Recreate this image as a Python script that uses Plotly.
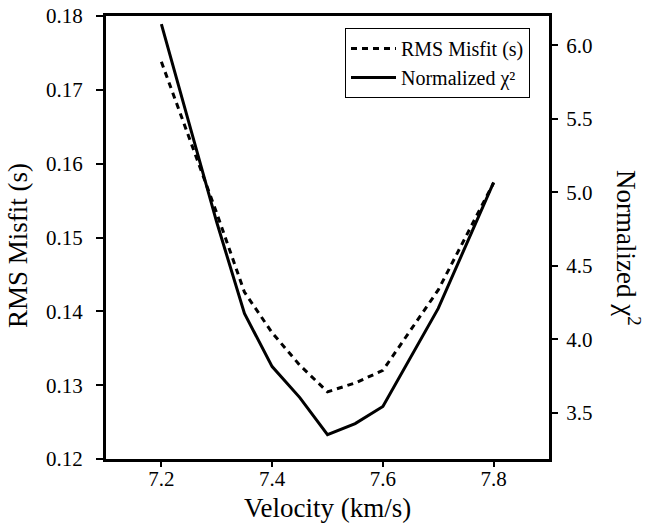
import plotly.graph_objects as go

velocity = [7.2, 7.3, 7.35, 7.4, 7.45, 7.5, 7.55, 7.6, 7.7, 7.8]
rms_misfit = [0.1738, 0.1533, 0.1426, 0.1371, 0.1327, 0.1291, 0.1303, 0.1320, 0.1429, 0.1574]
norm_chi2 = [6.145, 4.796, 4.175, 3.814, 3.603, 3.351, 3.426, 3.542, 4.210, 5.068]

x_ticks = [7.2, 7.4, 7.6, 7.8]
y1_ticks = [0.12, 0.13, 0.14, 0.15, 0.16, 0.17, 0.18]
y2_ticks = [3.5, 4.0, 4.5, 5.0, 5.5, 6.0]

FONT = "Liberation Serif, Times New Roman, serif"
L, R, T, B = 106, 98, 16, 69
W, H = 647, 528
pw, ph = W - L - R, H - T - B


def px(xp):
    return (xp - L) / pw


def py(yp):
    return (H - B - yp) / ph


fig = go.Figure()
fig.add_trace(go.Scatter(x=velocity, y=rms_misfit, mode="lines", name="RMS Misfit (s)",
                         line=dict(color="black", width=3, dash="6px,5px"), yaxis="y"))
fig.add_trace(go.Scatter(x=velocity, y=norm_chi2, mode="lines", name="Normalized χ²",
                         line=dict(color="black", width=3), yaxis="y2"))

axis_common = dict(showgrid=False, zeroline=False, showline=True, linecolor="black", linewidth=3,
                   ticks="outside", tickwidth=1.5, tickcolor="black",
                   tickfont=dict(family=FONT, size=21), automargin=False)

fig.update_layout(
    width=W, height=H,
    margin=dict(l=L, r=R, t=T, b=B),
    paper_bgcolor="white", plot_bgcolor="white",
    font=dict(family=FONT, color="black", size=21),
    showlegend=True,
    legend=dict(x=px(530), y=py(28), xanchor="right", yanchor="top",
                bordercolor="black", borderwidth=1, bgcolor="white",
                font=dict(family=FONT, size=20), tracegroupgap=0, itemwidth=45),
    xaxis=dict(range=[7.1, 7.9], tickvals=x_ticks, ticktext=[f"{v:.1f}" for v in x_ticks],
               mirror=True, ticklen=5, ticklabelstandoff=-6, **axis_common),
    yaxis=dict(range=[0.12, 0.18], tickvals=y1_ticks, ticktext=[f"{v:.2f}" for v in y1_ticks],
               ticklen=7, ticklabelstandoff=9, **axis_common),
    yaxis2=dict(range=[3.185, 6.2], tickvals=y2_ticks, ticktext=[f"{v:.1f}" for v in y2_ticks],
                overlaying="y", side="right", ticklen=6, ticklabelstandoff=4, **axis_common),
    annotations=[
        dict(text="Velocity (km/s)", x=px(327), y=py(508), textangle=0,
             xref="paper", yref="paper", showarrow=False, xanchor="center", yanchor="middle",
             font=dict(family=FONT, size=27)),
        dict(text="RMS Misfit (s)", x=px(18), y=py(246), textangle=-90,
             xref="paper", yref="paper", showarrow=False, xanchor="center", yanchor="middle",
             font=dict(family=FONT, size=27)),
        dict(text="Normalized χ<sup>2</sup>", x=px(628), y=py(248), textangle=90,
             xref="paper", yref="paper", showarrow=False, xanchor="center", yanchor="middle",
             font=dict(family=FONT, size=27)),
    ],
)

fig.write_html("out.html", config={"displayModeBar": False},
               post_script="document.body.style.margin='0';")
